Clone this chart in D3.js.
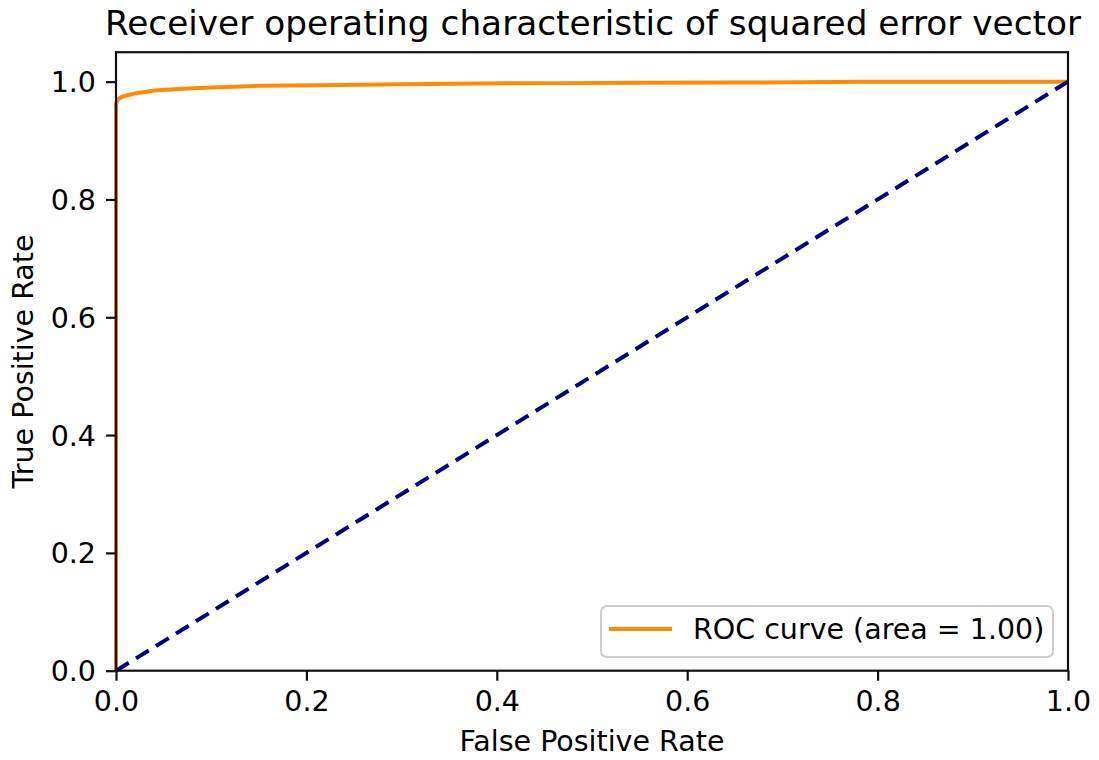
<!DOCTYPE html>
<html>
<head>
<meta charset="utf-8">
<script src="https://cdn.jsdelivr.net/npm/d3@7"></script>
<style>
  html, body { margin: 0; padding: 0; background: #fff; }
  svg text { font-family: "DejaVu Sans", sans-serif; fill: #000; }
</style>
</head>
<body>
<svg id="chart" width="1099" height="760"></svg>
<script>
// ROC curve of the squared error vector score
const fpr = [0, 0, 0.001, 0.003, 0.006, 0.01, 0.02, 0.04, 0.07, 0.1, 0.15, 0.22, 0.3, 0.38, 0.46, 0.55, 0.65, 0.72, 0.78, 0.9, 1.0];
const tpr = [0, 0.962, 0.967, 0.971, 0.974, 0.976, 0.980, 0.985, 0.988, 0.990, 0.993, 0.994, 0.9955, 0.997, 0.9975, 0.998, 0.9985, 0.999, 1.0, 1.0, 1.0];
// chance diagonal
const chanceX = [0, 1];
const chanceY = [0, 1];
const xTicks = [0, 0.2, 0.4, 0.6, 0.8, 1.0];
const yTicks = [0, 0.2, 0.4, 0.6, 0.8, 1.0];
const rocArea = 1.00;

const titleText = "Receiver operating characteristic of squared error vector";
const xLabel = "False Positive Rate";
const yLabel = "True Positive Rate";

const svg = d3.select("#chart");
const plotLeft = 116, plotRight = 1068, plotTop = 52.2, plotBottom = 670.7;

const x = d3.scaleLinear().domain([0, 1]).range([plotLeft, plotRight]);
const y = d3.scaleLinear().domain([0, 1.05]).range([plotBottom, plotTop]);

const tickFont = 28.5;

// curves
const line = d3.line().x(d => x(d[0])).y(d => y(d[1]));

svg.append("path")
  .datum(fpr.map((v, i) => [v, tpr[i]]))
  .attr("d", line)
  .attr("fill", "none")
  .attr("stroke", "darkorange")
  .attr("stroke-width", 4)
  .attr("stroke-linejoin", "round");

svg.append("path")
  .datum(chanceX.map((v, i) => [v, chanceY[i]]))
  .attr("d", line)
  .attr("fill", "none")
  .attr("stroke", "navy")
  .attr("stroke-width", 4)
  .attr("stroke-dasharray", "15,8.5");

// axes
const xAxis = d3.axisBottom(x).tickValues(xTicks).tickFormat(d3.format(".1f")).tickSize(10).tickPadding(10);
const yAxis = d3.axisLeft(y).tickValues(yTicks).tickFormat(d3.format(".1f")).tickSize(10).tickPadding(10);

const gx = svg.append("g").attr("transform", `translate(0,${plotBottom})`).call(xAxis);
const gy = svg.append("g").attr("transform", `translate(${plotLeft},0)`).call(yAxis);
[gx, gy].forEach(g => {
  g.select(".domain").remove();
  g.selectAll(".tick line").attr("stroke", "#111").attr("stroke-width", 2.2);
  g.selectAll(".tick text").attr("font-size", tickFont).attr("fill", "#111")
    .style("font-family", "DejaVu Sans, sans-serif");
});
gx.selectAll(".tick text").attr("dy", "0.71em");
gy.selectAll(".tick text").attr("dy", "0.35em");

// frame
svg.append("rect")
  .attr("x", plotLeft).attr("y", plotTop)
  .attr("width", plotRight - plotLeft).attr("height", plotBottom - plotTop)
  .attr("fill", "none").attr("stroke", "#111").attr("stroke-width", 2.2);

// title and axis labels
svg.append("text").attr("x", (plotLeft + plotRight) / 2 + 1).attr("y", 35)
  .attr("text-anchor", "middle").attr("font-size", 34.3).text(titleText);

svg.append("text").attr("x", (plotLeft + plotRight) / 2).attr("y", 751)
  .attr("text-anchor", "middle").attr("font-size", tickFont).text(xLabel);

svg.append("text")
  .attr("transform", `translate(33,${(plotTop + plotBottom) / 2}) rotate(-90)`)
  .attr("text-anchor", "middle").attr("font-size", tickFont).text(yLabel);

// legend
const lg = svg.append("g");
lg.append("rect")
  .attr("x", 601).attr("y", 606).attr("width", 452).attr("height", 51)
  .attr("rx", 6).attr("ry", 6)
  .attr("fill", "#fff").attr("fill-opacity", 0.8)
  .attr("stroke", "#ccc").attr("stroke-width", 2);
lg.append("line")
  .attr("x1", 609).attr("x2", 672).attr("y1", 629).attr("y2", 629)
  .attr("stroke", "darkorange").attr("stroke-width", 4);
lg.append("text").attr("x", 693).attr("y", 629).attr("dy", "0.35em")
  .attr("font-size", tickFont)
  .text(`ROC curve (area = ${rocArea.toFixed(2)})`);
</script>
</body>
</html>
